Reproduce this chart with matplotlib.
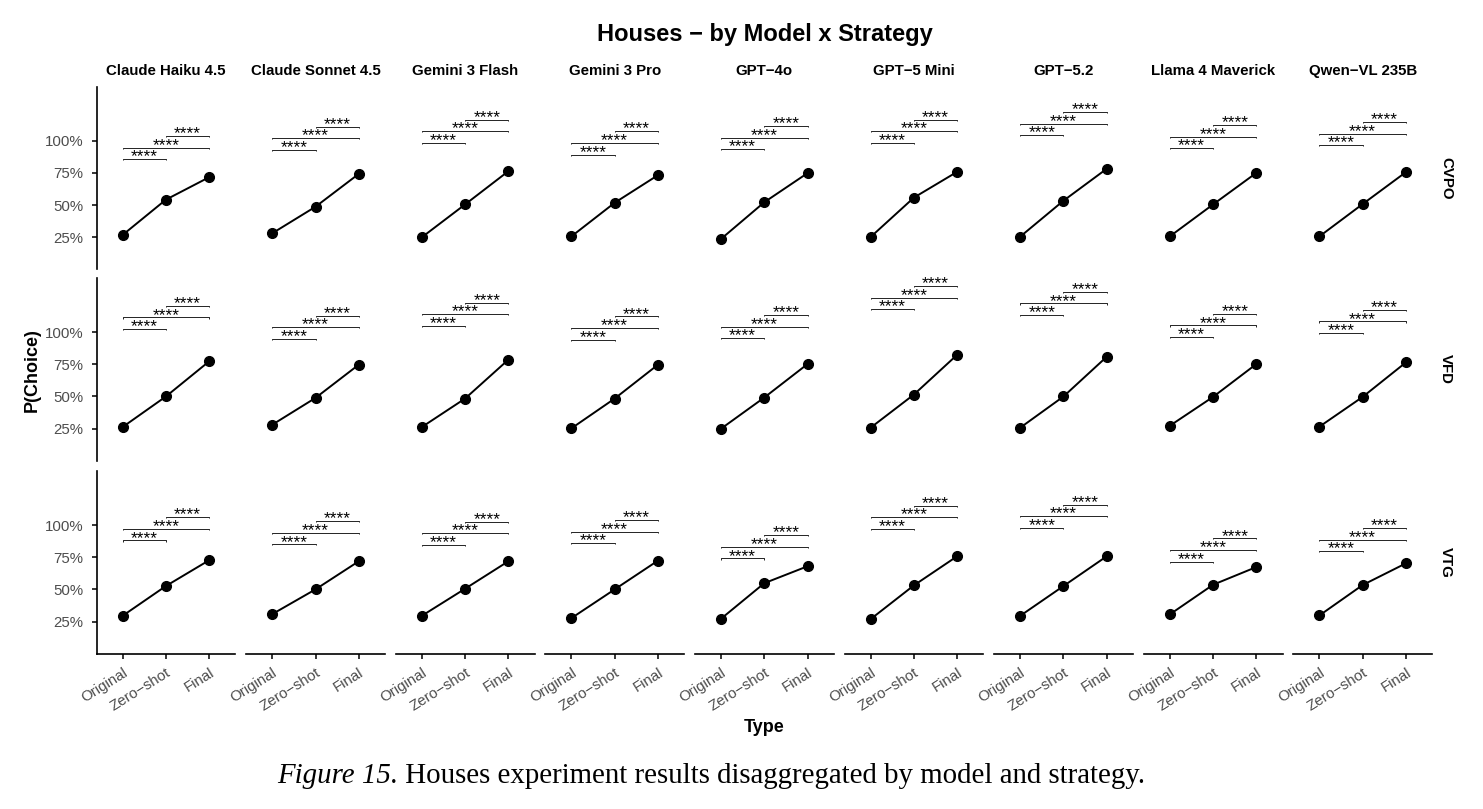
import numpy as np
import matplotlib
matplotlib.use("Agg")
import matplotlib.pyplot as plt
from matplotlib.transforms import offset_copy

plt.rcParams['font.family'] = ['Liberation Sans', 'DejaVu Sans']

models = ["Claude Haiku 4.5", "Claude Sonnet 4.5", "Gemini 3 Flash", "Gemini 3 Pro",
          "GPT\u22124o", "GPT\u22125 Mini", "GPT\u22125.2", "Llama 4 Maverick", "Qwen\u2212VL 235B"]
strategies = ["CVPO", "VFD", "VTG"]
types = ["Original", "Zero\u2212shot", "Final"]

# P(Choice) in %, one row per model: Original, Zero-shot, Final
cvpo = [[26.7, 54.2, 71.7], [28.0, 48.7, 74.3], [24.9, 50.5, 76.4],
        [25.6, 51.8, 73.3], [23.6, 52.2, 74.9], [25.1, 55.8, 75.9],
        [25.4, 53.4, 78.3], [25.6, 50.5, 75.1], [25.6, 50.8, 75.7]]
vfd = [[26.1, 49.9, 77.3], [27.9, 48.8, 74.7], [26.1, 48.3, 78.6],
       [25.1, 48.3, 74.7], [24.8, 49.1, 75.2], [25.6, 51.4, 82.4],
       [25.6, 49.9, 80.9], [27.1, 49.6, 75.2], [26.4, 49.6, 76.5]]
vtg = [[29.4, 52.6, 72.7], [30.7, 50.0, 71.9], [29.4, 50.5, 71.9],
       [27.6, 50.0, 72.4], [27.1, 54.8, 68.0], [26.8, 53.1, 75.8],
       [29.4, 52.6, 75.8], [30.5, 53.6, 67.4], [29.7, 53.4, 70.3]]

# height (%) of the lowest significance bracket in each panel
cvpo_br = [85.6, 92.9, 98.4, 89.3, 93.5, 98.4, 104.2, 94.2, 96.6]
vfd_br = [102.3, 94.8, 104.9, 94.1, 95.3, 117.6, 113.2, 96.1, 99.2]
vtg_br = [88.0, 84.9, 84.6, 85.9, 74.0, 97.1, 97.9, 71.6, 79.7]
sig_label = "****"
pairs = [(0, 1), (0, 2), (1, 2)]
br_step = 9.0

data = {"CVPO": cvpo, "VFD": vfd, "VTG": vtg}
brackets = {"CVPO": cvpo_br, "VFD": vfd_br, "VTG": vtg_br}

W, H = 1483, 809
fig = plt.figure(figsize=(W / 100, H / 100), dpi=100)

grey = "#4D4D4D"
left0, pw, pitch = 96.5, 138.8, 149.6
row_tops = [86.7, 278.0, 471.0]
ph = 182.7

axes = []
for i, strat in enumerate(strategies):
    for j, model in enumerate(models):
        x0 = left0 + j * pitch
        ax = fig.add_axes([x0 / W, 1 - (row_tops[i] + ph) / H, pw / W, ph / H])
        axes.append(ax)
        vals = np.array(data[strat][j]) / 100
        xs = np.arange(1, 4)
        ax.plot(xs, vals, "-", color="black", lw=1.4, zorder=3)
        ax.plot(xs, vals, "o", color="black", ms=7, zorder=4)

        # significance brackets
        tr = offset_copy(ax.transData, fig=fig, y=-1.6, units="points")
        for k, (a, b) in enumerate(pairs):
            yb = (brackets[strat][j] + k * br_step) / 100
            tip = 0.008
            ax.plot([xs[a], xs[a], xs[b], xs[b]], [yb - tip, yb, yb, yb - tip],
                    color="black", lw=0.6, solid_capstyle="butt")
            ax.text((xs[a] + xs[b]) / 2, yb, sig_label, ha="center", va="baseline",
                    fontsize=12.5, transform=tr)

        ax.set_xlim(0.4, 3.6)
        ax.set_ylim(0.0, 1.42)
        for s in ["top", "right"]:
            ax.spines[s].set_visible(False)
        ax.spines["left"].set_linewidth(1.2)
        ax.spines["bottom"].set_linewidth(1.2)

        if j == 0:
            ax.set_yticks([0.25, 0.5, 0.75, 1.0])
            ax.set_yticklabels(["25%", "50%", "75%", "100%"])
            ax.tick_params(axis="y", length=3.5, width=1.1, pad=6,
                           labelsize=10.8, labelcolor=grey)
        else:
            ax.spines["left"].set_visible(False)
            ax.set_yticks([])

        if i == 2:
            ax.set_xticks(xs)
            ax.set_xticklabels(types, rotation=32, ha="right",
                               rotation_mode="anchor")
            ax.tick_params(axis="x", length=3.5, width=1.1, pad=5,
                           labelsize=10.8, labelcolor=grey)
        else:
            ax.spines["bottom"].set_visible(False)
            ax.set_xticks([])

        if i == 0:
            fig.text((x0 + pw / 2) / W, 1 - 71 / H, model, ha="center", va="center",
                     fontsize=10.8, fontweight="bold")
        if j == len(models) - 1:
            fig.text(1446 / W, 1 - (row_tops[i] + ph / 2) / H, strat, rotation=-90,
                     ha="center", va="center", fontsize=10.8, fontweight="bold")

fig.text(765 / W, 1 - 34 / H, "Houses \u2212 by Model x Strategy", ha="center",
         va="center", fontsize=17, fontweight="bold")
fig.text(32 / W, 1 - 370 / H, "P(Choice)", rotation=90, ha="center", va="center",
         fontsize=13, fontweight="bold")
fig.text(764 / W, 1 - 727 / H, "Type", ha="center", va="center",
         fontsize=13, fontweight="bold")

cap1 = fig.text(277 / W, 1 - 776 / H, "Figure 15.", ha="left", va="center",
                fontsize=20.8, style="italic", family="Liberation Serif")
axes[0].annotate(" Houses experiment results disaggregated by model and strategy.",
                 xy=(1, 0), xycoords=cap1, ha="left", va="bottom",
                 fontsize=20.8, family="Liberation Serif", annotation_clip=False)

fig.savefig("out.png", dpi=100)
